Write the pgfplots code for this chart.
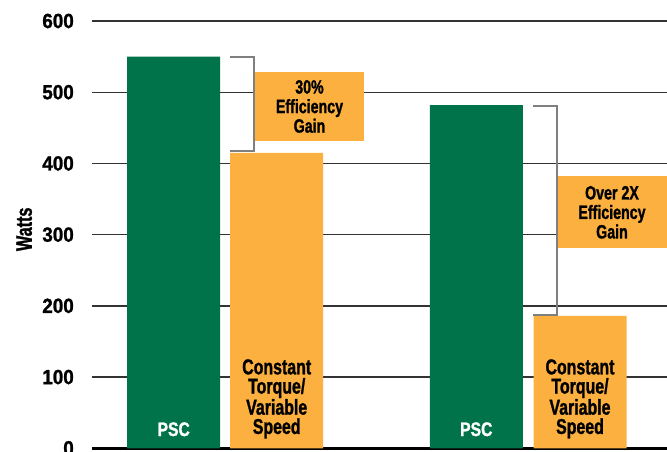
\documentclass[border=0pt]{standalone}
\usepackage{fontspec}
\setmainfont{Liberation Sans}
\newfontfamily\condA[FakeStretch=0.74, FakeBold=1.2]{Liberation Sans}
\newfontfamily\condB[FakeStretch=0.8, FakeBold=1.2]{Liberation Sans}
\newfontfamily\condT[FakeStretch=0.92, FakeBold=1.2]{Liberation Sans}
\newfontfamily\condW[FakeStretch=0.72, FakeBold=1.2]{Liberation Sans}
\usepackage{pgfplots}
\pgfplotsset{compat=1.18}
\definecolor{pscgreen}{HTML}{00734A}
\definecolor{ctorange}{HTML}{FBB040}
\definecolor{brk}{HTML}{7F7F7F}
\begin{document}
\begin{tikzpicture}
\useasboundingbox (-92pt,-2.7pt) rectangle (575pt,448.3pt);
\begin{axis}[
 at={(0pt,0pt)}, anchor=south west,
 scale only axis, width=575pt, height=427.3pt,
 xmin=92, xmax=667, ymin=0, ymax=600,
 ytick={0,100,...,600},
 xtick=\empty,
 axis x line*=bottom, axis y line*=left,
 y axis line style={draw=none},
 x axis line style={line width=2.6pt, black, -},
 major tick length=0pt,
 ymajorgrids, grid style={line width=1.4pt, color=black!80},
 /pgf/number format/assume math mode=true,
 yticklabel style={font=\condT\bfseries\fontsize{20.5}{20.5}\selectfont, anchor=east, inner sep=0pt, xshift=-18pt},
 ylabel={Watts},
 ylabel style={font=\condW\bfseries\fontsize{22.5}{22.5}\selectfont, at={(axis description cs:-0.118,0.5125)}, anchor=center},
 clip=false,
]
\addplot[fill=pscgreen, draw=none, ybar, bar width=93, bar shift=0pt] coordinates {(173.7,550) (476.3,482)};
\addplot[fill=ctorange, draw=none, ybar, bar width=93, bar shift=0pt] coordinates {(276.7,415) (580,186)};
\draw[brk, line width=2pt] (axis cs:230,550) -| (axis cs:254,417) -- (axis cs:230,417);
\draw[brk, line width=2pt] (axis cs:533,481) -| (axis cs:557,187) -- (axis cs:533,187);
\node[fill=ctorange, minimum width=109pt, minimum height=68.4pt, inner sep=0pt, align=center, font=\condA\bfseries\fontsize{19.2}{19.5}\selectfont] at (axis cs:309.5,480) {30\%\\Efficiency\\Gain};
\node[fill=ctorange, minimum width=109pt, minimum height=72pt, inner sep=0pt, align=center, font=\condA\bfseries\fontsize{19.2}{19.5}\selectfont] at (axis cs:612,331.4) {Over 2X\\Efficiency\\Gain};
\node[text=white, font=\condB\bfseries\fontsize{19.6}{19.6}\selectfont, anchor=base, inner sep=0pt, yshift=12.3pt] at (axis cs:173.7,0) {PSC};
\node[text=white, font=\condB\bfseries\fontsize{19.6}{19.6}\selectfont, anchor=base, inner sep=0pt, yshift=12.3pt] at (axis cs:476.3,0) {PSC};
\node[font=\condA\bfseries\fontsize{21.5}{19.3}\selectfont, align=center, anchor=south, inner sep=0pt, yshift=9.7pt] at (axis cs:276.7,0) {Constant\\Torque/\\Variable\\Speed};
\node[font=\condA\bfseries\fontsize{21.5}{19.3}\selectfont, align=center, anchor=south, inner sep=0pt, yshift=9.7pt] at (axis cs:580,0) {Constant\\Torque/\\Variable\\Speed};
\end{axis}
\end{tikzpicture}
\end{document}
